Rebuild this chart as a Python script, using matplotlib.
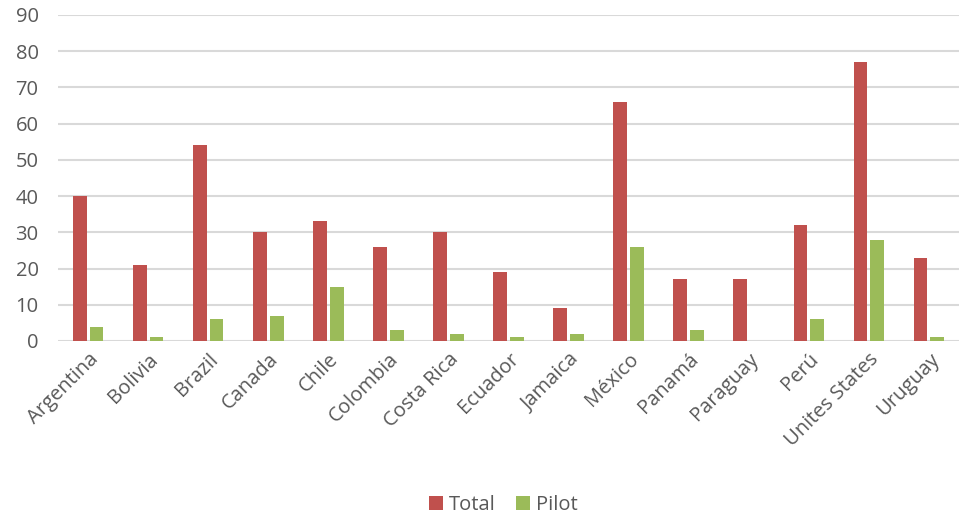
import matplotlib
matplotlib.use('Agg')
import matplotlib.pyplot as plt
import numpy as np

countries = ['Argentina', 'Bolivia', 'Brazil', 'Canada', 'Chile', 'Colombia',
             'Costa Rica', 'Ecuador', 'Jamaica', 'México', 'Panamá', 'Paraguay',
             'Perú', 'Unites States', 'Uruguay']
total = [40, 21, 54, 30, 33, 26, 30, 19, 9, 66, 17, 17, 32, 77, 23]
pilot = [4, 1, 6, 7, 15, 3, 2, 1, 2, 26, 3, 0, 6, 28, 1]

plt.rcParams['font.family'] = ['Open Sans', 'DejaVu Sans']

fig = plt.figure(figsize=(9.59, 5.16), dpi=100)
ax = fig.add_axes([58 / 959, 1 - 341 / 516, 1 - 58 / 959, (341 - 15) / 516])

x = np.arange(len(countries))
w = 0.23
ax.bar(x - 0.14, total, w, color='#C0504D', label='Total', zorder=3)
ax.bar(x + 0.14, pilot, w, color='#9BBB59', label='Pilot', zorder=3)

ax.set_xlim(-0.5, len(countries) - 0.5)
ax.set_ylim(0, 90)
ax.set_yticks(range(0, 91, 10))
ax.yaxis.grid(True, color='#D9D9D9', linewidth=1.5, zorder=0)
for s in ax.spines.values():
    s.set_visible(False)
ax.tick_params(axis='both', length=0, labelsize=14.5, labelcolor='#595959')
ax.tick_params(axis='y', pad=14)
ax.tick_params(axis='x', pad=6)
ax.set_xticks(x)
ax.set_xticklabels(countries, rotation=45, ha='right', rotation_mode='anchor')

fig.legend(loc='center', bbox_to_anchor=(0.525, 1 - 505 / 516), ncol=2, frameon=False,
           fontsize=14.5, labelcolor='#595959', handlelength=0.7, handleheight=0.7,
           handletextpad=0.3, columnspacing=1.0)

fig.savefig('out.png', dpi=100)
